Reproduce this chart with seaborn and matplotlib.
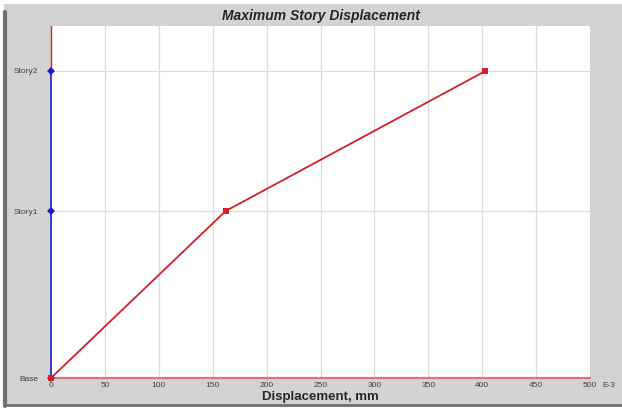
import matplotlib
matplotlib.use("Agg")
import matplotlib.pyplot as plt
import seaborn as sns
import pandas as pd
from matplotlib.lines import Line2D
from matplotlib.patches import Rectangle

stories = ["Base", "Story1", "Story2"]
elevation = [0.0, 3.6, 6.62]
displacement = [0.0, 162.0, 403.0]   # E-3 mm
zero_disp = [0.0, 0.0, 0.0]
x_ticks = [0, 50, 100, 150, 200, 250, 300, 350, 400, 450, 500]

sns.set_style("white")
plt.rcParams['font.family'] = ['Liberation Sans', 'DejaVu Sans']

bg = "#d3d3d3"
fig = plt.figure(figsize=(6.22, 4.11), dpi=100, facecolor=bg)
# frame details
fig.add_artist(Rectangle((0, 1 - 4/411), 1, 4/411, transform=fig.transFigure,
                         facecolor="white", edgecolor="none"))
fig.add_artist(Rectangle((0, 0), 1, 5/411, transform=fig.transFigure,
                         facecolor="white", edgecolor="none"))
fig.add_artist(Rectangle((0, 0), 4/622, 1, transform=fig.transFigure,
                         facecolor="white", edgecolor="none"))
fig.add_artist(Line2D([5/622, 5/622], [5/411, 1 - 12/411], transform=fig.transFigure,
                      color="#707070", lw=3))
fig.add_artist(Line2D([5/622, 1], [6/411, 6/411], transform=fig.transFigure,
                      color="#707070", lw=2))

ax = fig.add_axes([51/622, 1 - 378/411, (590 - 51)/622, (378 - 26)/411])
ax.set_facecolor("white")

df = pd.DataFrame({"disp": displacement, "elev": elevation})
df0 = pd.DataFrame({"disp": zero_disp, "elev": elevation})

top = 7.59
ax.set_xlim(0, 500)
ax.set_ylim(0, top)

# grid
for xt in x_ticks[1:-1]:
    ax.axvline(xt, color="#dcdcdc", lw=0.9, zorder=0)
for e in elevation[1:]:
    ax.axhline(e, color="#dcdcdc", lw=0.9, zorder=0)

# red axis lines
ax.plot([0, 0], [elevation[-1], top], color="#d02020", lw=1.0, zorder=2, clip_on=False)
ax.axhline(0, color="#e07080", lw=1.6, zorder=2, clip_on=False)

sns.lineplot(data=df0, x="disp", y="elev", sort=False, orient="y", ax=ax,
             color="#1a1ad0", lw=1.2, marker="D", markersize=4,
             markeredgewidth=0, zorder=3, clip_on=False)
sns.lineplot(data=df, x="disp", y="elev", sort=False, orient="y", ax=ax,
             color="#d0202a", lw=1.3, marker="s", markersize=4,
             markeredgewidth=0, zorder=4, clip_on=False)

for s in ax.spines.values():
    s.set_visible(False)

ax.set_xticks(x_ticks)
ax.set_xticklabels([str(t) for t in x_ticks], fontsize=6, color="#404040")
ax.set_yticks(elevation)
ax.set_yticklabels(stories, fontsize=6, color="#404040")
ax.tick_params(axis="both", length=0)
ax.tick_params(axis="x", pad=3)
ax.tick_params(axis="y", pad=9)
ax.annotate("E-3", xy=(1, 0), xycoords="axes fraction", xytext=(9, -3),
            textcoords="offset points", fontsize=6, color="#404040",
            ha="left", va="top")

ax.set_xlabel("Displacement, mm", fontsize=9.5, fontweight="bold", labelpad=1)
ax.set_ylabel("")
ax.set_title("Maximum Story Displacement", fontsize=10, fontweight="bold",
             fontstyle="italic", pad=4)

fig.savefig("out.png", dpi=100, facecolor=bg)
